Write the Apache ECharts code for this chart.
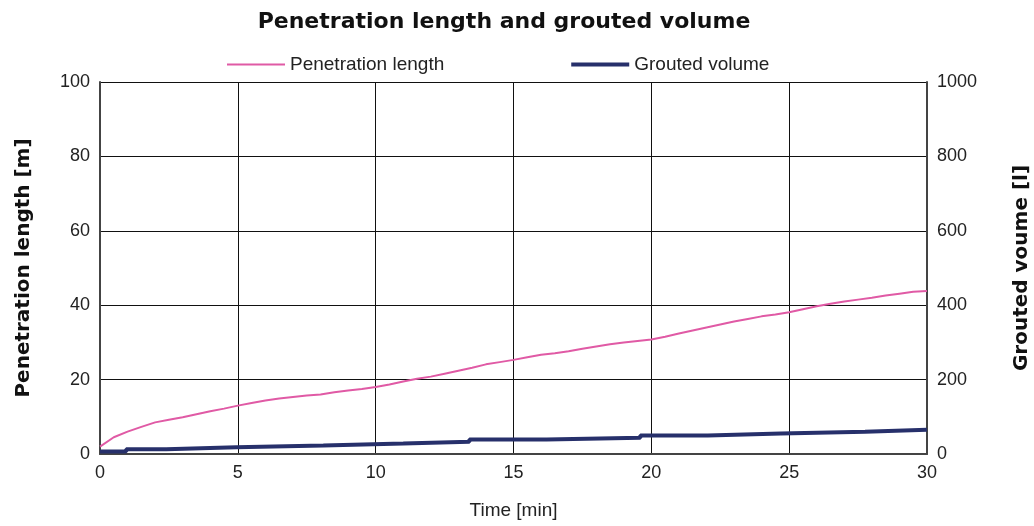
<!DOCTYPE html>
<html>
<head>
<meta charset="utf-8">
<script src="https://cdn.jsdelivr.net/npm/echarts@6/dist/echarts.min.js"></script>
<style>html,body{margin:0;padding:0;background:#fff}#c{width:1034px;height:526px}</style>
</head>
<body>
<div id="c"></div>
<script>
// Penetration length [m] sampled every 0.5 min
const penTime = [0,0.5,1,1.5,2,2.5,3,3.5,4,4.5,5,5.5,6,6.5,7,7.5,8,8.5,9,9.5,10,10.5,11,11.5,12,12.5,13,13.5,14,14.5,15,15.5,16,16.5,17,17.5,18,18.5,19,19.5,20,20.5,21,21.5,22,22.5,23,23.5,24,24.5,25,25.5,26,26.5,27,27.5,28,28.5,29,29.5,30];
const penValues = [2.0,4.5,6.0,7.3,8.5,9.2,9.9,10.7,11.5,12.2,13.0,13.7,14.4,14.9,15.3,15.7,16.0,16.6,17.1,17.5,18.0,18.7,19.5,20.2,20.8,21.6,22.4,23.2,24.1,24.7,25.3,26.0,26.7,27.1,27.6,28.3,28.9,29.5,30.0,30.4,30.8,31.5,32.4,33.2,34.0,34.8,35.6,36.3,37.0,37.5,38.1,38.9,39.7,40.4,41.0,41.5,42.0,42.6,43.1,43.6,43.8];
// Grouted volume [l]: step changes (time at which each value starts)
const volTime = [0,0.95,2.4,4.95,8.1,11.0,13.4,16.2,19.6,22.05,24.7,27.75,30];
const volValues = [7,13,18,23,28,33,39,44,50,55,60,65,65];

const titleText = 'Penetration length and grouted volume';
const seriesNames = ['Penetration length','Grouted volume'];

const penData = penTime.map((t,i)=>[t,penValues[i]]);
// staircase: hold previous value until the change time, then jump
const volData = [];
volTime.forEach((t,i)=>{
  if(i>0) volData.push([t,volValues[i-1]]);
  volData.push([t,volValues[i]]);
});

const PINK = '#e05aa5', NAVY = '#27306b';
const chart = echarts.init(document.getElementById('c'));
const txt = '#222';
const lab = {color:txt, fontFamily:'Liberation Sans, Arial', fontSize:18};
const nameStyle = {color:'#111',fontFamily:'DejaVu Sans',fontWeight:'bold',fontSize:20};
chart.setOption({
  animation:false,
  title:{text:titleText,left:499,textAlign:'center',top:6,textStyle:{fontFamily:'DejaVu Sans',fontWeight:900,fontSize:22,color:'#111'}},
  legend:{left:221,top:50,itemGap:125,itemWidth:58,itemHeight:14,
    itemStyle:{opacity:0},
    textStyle:Object.assign({},lab,{fontSize:19}),
    data:[{name:seriesNames[0],lineStyle:{color:PINK,width:2}},
          {name:seriesNames[1],lineStyle:{color:NAVY,width:4}}]},
  grid:{left:100,right:107,top:82,bottom:72,outerBoundsMode:'none',containLabel:false},
  xAxis:{type:'value',min:0,max:30,interval:5,
    name:'Time [min]',nameLocation:'middle',nameGap:47,nameTextStyle:Object.assign({},lab,{fontSize:19}),
    axisLine:{lineStyle:{color:'#444',width:2}},axisTick:{show:false},
    axisLabel:Object.assign({margin:10},lab),
    splitLine:{lineStyle:{color:'#111',width:1}}},
  yAxis:[{type:'value',min:0,max:100,interval:20,
    name:'Penetration length [m]',nameLocation:'middle',nameGap:66,
    nameTextStyle:nameStyle,
    axisLine:{show:true,lineStyle:{color:'#444',width:2}},axisTick:{show:false},
    axisLabel:Object.assign({margin:10},lab),
    splitLine:{lineStyle:{color:'#111',width:1}}},
   {type:'value',min:0,max:1000,interval:200,position:'right',
    name:'Grouted voume [l]',nameLocation:'middle',nameGap:85,
    nameTextStyle:nameStyle,
    axisLine:{show:true,lineStyle:{color:'#444',width:2}},axisTick:{show:false},
    axisLabel:Object.assign({margin:10,formatter:v=>String(v)},lab),
    splitLine:{show:false}}],
  series:[
    {name:seriesNames[0],type:'line',yAxisIndex:0,data:penData,symbol:'none',
     lineStyle:{color:PINK,width:2},itemStyle:{color:PINK}},
    {name:seriesNames[1],type:'line',yAxisIndex:1,data:volData,symbol:'none',
     lineStyle:{color:NAVY,width:4},itemStyle:{color:NAVY}}
  ]
});
</script>
</body>
</html>
